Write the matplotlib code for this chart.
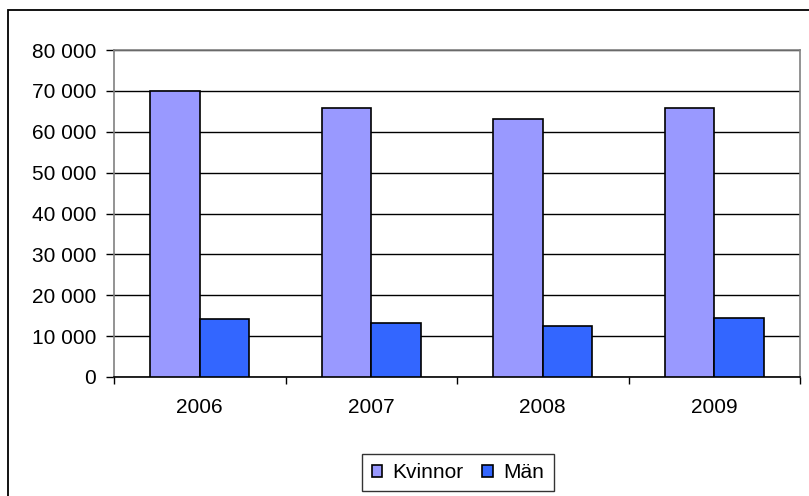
import matplotlib
matplotlib.use("Agg")
import matplotlib.pyplot as plt
from matplotlib.patches import Rectangle
from matplotlib.ticker import FuncFormatter, MultipleLocator
import numpy as np

years = ["2006", "2007", "2008", "2009"]
kvinnor = [70000, 65800, 63200, 65700]
man = [14300, 13300, 12400, 14400]
series_names = ["Kvinnor", "Män"]

plt.rcParams['font.family'] = ['Liberation Sans', 'DejaVu Sans']

W, H = 809, 496
fig = plt.figure(figsize=(W/100, H/100), dpi=100)
ax = fig.add_axes([114/W, 1-377/H, (800-114)/W, (377-50)/H])

x = np.arange(len(years))
bw = 0.29
ax.bar(x - bw/2, kvinnor, bw, color="#9999FF", edgecolor="black", linewidth=1.2, label=series_names[0], zorder=3)
ax.bar(x + bw/2, man, bw, color="#3366FF", edgecolor="black", linewidth=1.2, label=series_names[1], zorder=3)

ax.set_xlim(-0.5, len(years) - 0.5)
ax.set_ylim(0, 80000)
ax.yaxis.set_major_locator(MultipleLocator(10000))
ax.yaxis.set_major_formatter(FuncFormatter(lambda v, p: f"{int(v):,}".replace(",", " ")))
ax.grid(axis='y', color='black', linewidth=1.0, zorder=0)

ax.set_xticks(x)
ax.set_xticklabels(years, fontsize=15)
ax.tick_params(axis='x', length=0, pad=15)
ax.set_xticks(np.arange(-0.5, len(years)), minor=True)
ax.tick_params(axis='x', which='minor', length=5, color='black', width=1)
ax.tick_params(axis='y', length=6, width=1, labelsize=15, color='black', pad=7)

for s in ['left', 'right', 'top']:
    ax.spines[s].set_color('#808080')
    ax.spines[s].set_linewidth(1.2)
ax.spines['bottom'].set_color('black')
ax.spines['bottom'].set_linewidth(1.2)

fig.patches.append(Rectangle((8/W, -5/H), (820-8)/W, (496+5-10)/H, transform=fig.transFigure,
                             fill=False, edgecolor='black', linewidth=1.3, clip_on=False))

leg = fig.legend(loc='center', bbox_to_anchor=(458/W, 1-472.5/H), ncol=2, frameon=True,
                 fancybox=False, edgecolor='black', fontsize=15, handlelength=0.5, handleheight=0.5,
                 handletextpad=0.5, columnspacing=0.9, borderpad=0.45, borderaxespad=0)
leg.get_frame().set_linewidth(1.0)

fig.savefig("out.png", dpi=100)
